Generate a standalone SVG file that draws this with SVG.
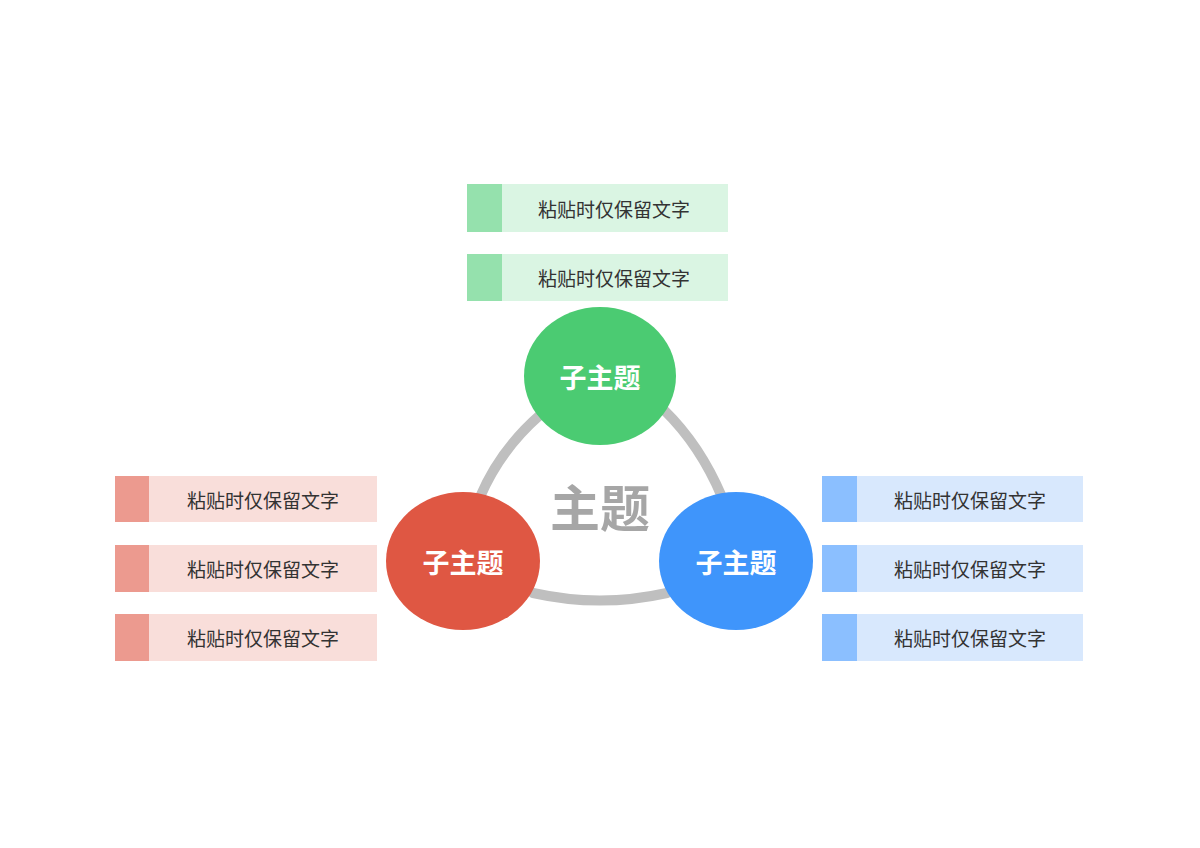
<svg xmlns="http://www.w3.org/2000/svg" width="1200" height="848" viewBox="0 0 1200 848">
<style>
text{font-family:"Noto Sans CJK SC","Noto Sans",sans-serif;text-anchor:middle;dominant-baseline:central}
.t{font-size:19px;fill:#333}
.n{font-size:27px;font-weight:bold;fill:#fff}
.c{fill:none;stroke:#bfbfbf;stroke-width:10;stroke-linecap:round}
</style>
<rect width="1200" height="848" fill="#fff"/>
<g id="connectors">
<path class="c" d="M540,415 Q500,450 480,497"/>
<path class="c" d="M664,410 Q700,445 722,497"/>
<path class="c" d="M533,593 Q600,608 667,593"/>
</g>
<g id="center"><text x="600" y="505" style="font-size:50px;font-weight:bold;fill:#a6a6a6">主题</text></g>
<g id="green"><ellipse cx="600" cy="376" rx="76" ry="69" fill="#4bcb72"/><text class="n" x="600" y="376">子主题</text></g>
<g id="red"><ellipse cx="463" cy="561" rx="77" ry="69" fill="#df5743"/><text class="n" x="463" y="561">子主题</text></g>
<g id="blue"><ellipse cx="736" cy="561" rx="77" ry="69" fill="#3f95fb"/><text class="n" x="736" y="561">子主题</text></g>
<g id="g1"><rect x="467" y="184" width="261" height="48" fill="#daf5e3"/><rect x="467" y="184" width="35" height="48" fill="#95e1ad"/><text class="t" x="614" y="208">粘贴时仅保留文字</text></g>
<g id="g2"><rect x="467" y="254" width="261" height="47" fill="#daf5e3"/><rect x="467" y="254" width="35" height="47" fill="#95e1ad"/><text class="t" x="614" y="277">粘贴时仅保留文字</text></g>
<g id="r1"><rect x="115" y="476" width="262" height="46" fill="#f9deda"/><rect x="115" y="476" width="34" height="46" fill="#ec9a8f"/><text class="t" x="263" y="499">粘贴时仅保留文字</text></g>
<g id="r2"><rect x="115" y="545" width="262" height="47" fill="#f9deda"/><rect x="115" y="545" width="34" height="47" fill="#ec9a8f"/><text class="t" x="263" y="568">粘贴时仅保留文字</text></g>
<g id="r3"><rect x="115" y="614" width="262" height="47" fill="#f9deda"/><rect x="115" y="614" width="34" height="47" fill="#ec9a8f"/><text class="t" x="263" y="637">粘贴时仅保留文字</text></g>
<g id="b1"><rect x="822" y="476" width="261" height="46" fill="#d8e8fd"/><rect x="822" y="476" width="35" height="46" fill="#8bbfff"/><text class="t" x="970" y="499">粘贴时仅保留文字</text></g>
<g id="b2"><rect x="822" y="545" width="261" height="47" fill="#d8e8fd"/><rect x="822" y="545" width="35" height="47" fill="#8bbfff"/><text class="t" x="970" y="568">粘贴时仅保留文字</text></g>
<g id="b3"><rect x="822" y="614" width="261" height="47" fill="#d8e8fd"/><rect x="822" y="614" width="35" height="47" fill="#8bbfff"/><text class="t" x="970" y="637">粘贴时仅保留文字</text></g>
</svg>
